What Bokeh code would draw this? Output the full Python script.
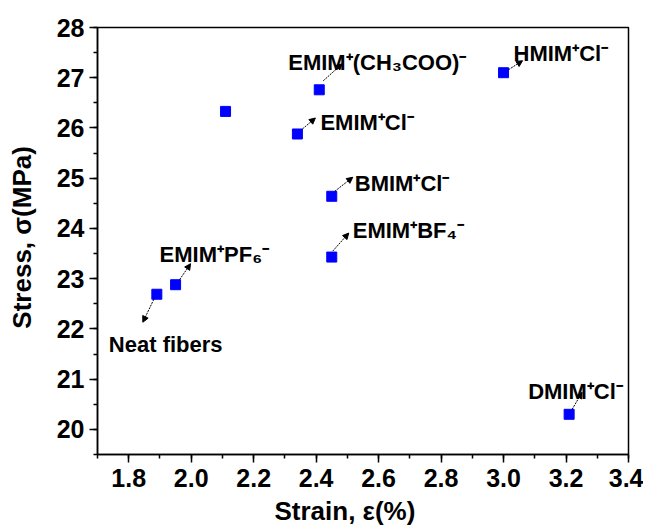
from bokeh.plotting import figure
from bokeh.models import Range1d, SingleIntervalTicker, Label, Arrow, NormalHead, PrintfTickFormatter
from bokeh.embed import file_html
from bokeh.resources import INLINE

# ---- data ----
strain = [1.89, 1.95, 2.11, 2.34, 2.41, 2.45, 2.45, 3.00, 3.21]
stress = [22.69, 22.88, 26.33, 25.88, 26.76, 24.64, 23.43, 27.10, 20.30]
names = ["Neat fibers", "EMIM⁺PF₆⁻", "", "EMIM⁺Cl⁻", "EMIM⁺(CH₃COO)⁻",
         "BMIM⁺Cl⁻", "EMIM⁺BF₄⁻", "HMIM⁺Cl⁻", "DMIM⁺Cl⁻"]
x_label = "Strain, ε(%)"
y_label = "Stress, σ(MPa)"

# label anchor offsets (screen px, +dx right, +dy down) relative to the point
lab_dx = [-48, -16, 0, 23, -31, 23, 21, 10, -41]
lab_dy = [50, -30, 0, -11, -27, -13, -27, -19, -23]
# arrow start / end offsets (screen px)
arr_sx = [-3, 4, 0, 5, 4, 3, 1, 5, 3]
arr_sy = [5, -5, 0, -5, -9, -5, -6, -3, -5]
arr_ex = [-14, 15, 0, 18, 23, 21, 17, 19, 13]
arr_ey = [28, -21, 0, -16, -26, -19, -24, -12, -22]

X0, X1 = 1.7, 3.4001
Y0, Y1 = 19.5, 28.0
W, H = 643, 531
BL, BR, BT, BB = 97, 15, 27, 77
FW, FH = W - BL - BR, H - BT - BB
xpp = FW / (X1 - X0)
ypp = FH / (Y1 - Y0)

FONT = "Liberation Sans"

p = figure(width=W, height=H, output_backend="svg", toolbar_location=None,
           x_range=Range1d(X0, X1), y_range=Range1d(Y0, Y1),
           min_border_left=BL, min_border_right=BR, min_border_top=BT,
           min_border_bottom=BB)
p.background_fill_color = "white"
p.border_fill_color = "white"
p.outline_line_color = "black"
p.outline_line_width = 1.5
p.grid.visible = False

p.xaxis.ticker = SingleIntervalTicker(interval=0.2, num_minor_ticks=2)
p.yaxis.ticker = SingleIntervalTicker(interval=1, num_minor_ticks=2)
p.xaxis.formatter = PrintfTickFormatter(format="%.1f")
for ax in (p.xaxis[0], p.yaxis[0]):
    ax.axis_line_width = 1.5
    ax.axis_line_color = "black"
    ax.major_tick_line_width = 1.5
    ax.minor_tick_line_width = 1.5
    ax.major_tick_in = 0
    ax.major_tick_out = 8
    ax.minor_tick_in = 0
    ax.minor_tick_out = 4
    ax.major_label_text_font = FONT
    ax.major_label_text_font_style = "bold"
    ax.major_label_text_font_size = "25px"
    ax.major_label_text_color = "black"
    ax.axis_label_text_font = FONT
    ax.axis_label_text_font_style = "bold"
    ax.axis_label_text_font_size = "26px"
    ax.axis_label_text_color = "black"
p.xaxis.major_label_standoff = 6
p.yaxis.major_label_standoff = 5
# non-breaking padding shifts the titles off-centre as in the reference
p.xaxis.axis_label = x_label + "\u00a0" * 5
p.yaxis.axis_label = "\u00a0" + y_label
p.xaxis.axis_label_standoff = 6
p.yaxis.axis_label_standoff = 17

p.scatter(strain, stress, marker="square", size=10, color="#0000FF")

for i, nm in enumerate(names):
    if not nm:
        continue
    x, y = strain[i], stress[i]
    p.add_layout(Label(x=x + lab_dx[i] / xpp, y=y - lab_dy[i] / ypp, text=nm,
                       text_font=FONT, text_font_style="bold",
                       text_font_size="22px", text_color="black",
                       text_baseline="alphabetic", text_align="left"))
    p.add_layout(Arrow(x_start=x + arr_sx[i] / xpp, y_start=y - arr_sy[i] / ypp,
                       x_end=x + arr_ex[i] / xpp, y_end=y - arr_ey[i] / ypp,
                       line_color="black", line_width=1, line_dash="2 1",
                       end=NormalHead(size=6, fill_color="black",
                                      line_color="black", line_width=1)))

open("out.html", "w").write(file_html(p, INLINE))
